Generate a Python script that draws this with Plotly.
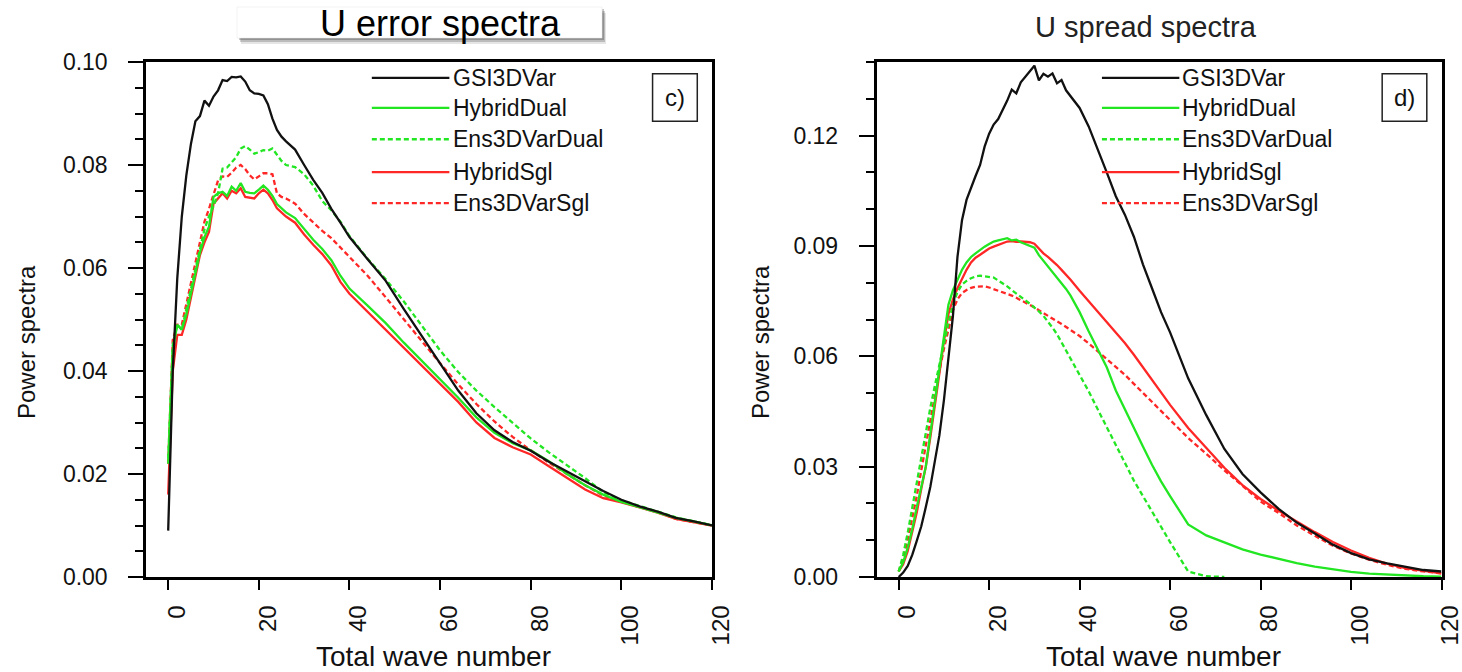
import plotly.graph_objects as go

W, H = 1462, 672
FONT = "Liberation Sans, Arial, Helvetica, sans-serif"

# ---------------- data: U error spectra (panel c) ----------------
wn_err = list(range(0, 27)) + [28, 30, 32, 34, 36, 38, 40] + list(range(44, 121, 4))

gsi_err = [0.009, 0.040, 0.058, 0.070, 0.078, 0.084, 0.0885, 0.0895, 0.0925, 0.0915,
           0.0933, 0.0945, 0.0965, 0.0963, 0.0971, 0.0970, 0.0972, 0.0962, 0.0945, 0.0939,
           0.0938, 0.0935, 0.0918, 0.0890, 0.0868, 0.0855, 0.0846,
           0.0830, 0.0800, 0.0771, 0.0746, 0.0715, 0.0688, 0.0660,
           0.0617, 0.0575, 0.0520, 0.0468, 0.0415, 0.0362, 0.0318, 0.0285, 0.0262, 0.0245,
           0.0224, 0.0205, 0.0187, 0.0167, 0.0150, 0.0137, 0.0127, 0.0115, 0.0108, 0.0100]
hyb_dual_err = [0.022, 0.044, 0.049, 0.048, 0.051, 0.055, 0.059, 0.063, 0.066, 0.068,
                0.0738, 0.0745, 0.0748, 0.0740, 0.0758, 0.0750, 0.0765, 0.0748, 0.0746, 0.0745,
                0.0752, 0.0760, 0.0752, 0.0740, 0.0724, 0.0715, 0.0708,
                0.0697, 0.0675, 0.0655, 0.0637, 0.0615, 0.0585, 0.0560,
                0.0527, 0.0493, 0.0455, 0.0420, 0.0385, 0.0348, 0.0310, 0.0280, 0.0260, 0.0246,
                0.0225, 0.0200, 0.0178, 0.0160, 0.0146, 0.0136, 0.0126, 0.0115, 0.0108, 0.0100]
ens_dual_err = [0.023, 0.045, 0.049, 0.048, 0.052, 0.056, 0.060, 0.064, 0.0675, 0.070,
                0.072, 0.0745, 0.0793, 0.0795, 0.0805, 0.0815, 0.0832, 0.0837, 0.0830, 0.0822,
                0.0825, 0.0829, 0.0828, 0.0832, 0.0820, 0.0808, 0.0800,
                0.0796, 0.0782, 0.0760, 0.0730, 0.0712, 0.0690, 0.0662,
                0.0618, 0.0578, 0.0535, 0.0487, 0.0440, 0.0398, 0.0362, 0.0330, 0.0299, 0.0269,
                0.0242, 0.0217, 0.0192, 0.0165, 0.0149, 0.0138, 0.0127, 0.0116, 0.0108, 0.0101]
hyb_sgl_err = [0.016, 0.040, 0.047, 0.047, 0.050, 0.054, 0.058, 0.0625, 0.065, 0.067,
               0.0725, 0.0735, 0.0745, 0.0735, 0.0750, 0.0745, 0.0755, 0.0738, 0.0737, 0.0735,
               0.0745, 0.0752, 0.0745, 0.0732, 0.0716, 0.0708, 0.0700,
               0.0688, 0.0665, 0.0645, 0.0627, 0.0605, 0.0573, 0.0550,
               0.0515, 0.0482, 0.0445, 0.0410, 0.0375, 0.0340, 0.0300, 0.0270, 0.0252, 0.0238,
               0.0215, 0.0192, 0.0170, 0.0153, 0.0145, 0.0135, 0.0125, 0.0113, 0.0107, 0.0100]
ens_sgl_err = [0.022, 0.046, 0.049, 0.049, 0.053, 0.057, 0.061, 0.065, 0.069, 0.0715,
               0.0745, 0.0770, 0.0778, 0.0777, 0.0785, 0.0795, 0.0800, 0.0792, 0.0780, 0.0772,
               0.0778, 0.0784, 0.0784, 0.0782, 0.0745, 0.0738, 0.0735,
               0.0725, 0.0705, 0.0688, 0.0672, 0.0658, 0.0640, 0.0620,
               0.0585, 0.0543, 0.0500, 0.0458, 0.0415, 0.0374, 0.0336, 0.0302, 0.0272, 0.0246,
               0.0222, 0.0200, 0.0178, 0.0158, 0.0146, 0.0136, 0.0126, 0.0113, 0.0107, 0.0100]

# ---------------- data: U spread spectra (panel d) ----------------
wn_spr = list(range(0, 39)) + list(range(40, 61, 2)) + list(range(64, 121, 4))

gsi_spr = [0.000, 0.0012, 0.003, 0.006, 0.0098, 0.0138, 0.019, 0.0245, 0.0315, 0.0385,
           0.048, 0.059, 0.071, 0.087, 0.097, 0.1025, 0.106, 0.109, 0.112, 0.117,
           0.1205, 0.123, 0.1245, 0.127, 0.1295, 0.1325, 0.1315, 0.1345, 0.136, 0.1375,
           0.139, 0.135, 0.1368, 0.136, 0.1369, 0.1342, 0.1351, 0.1323, 0.1308,
           0.1275, 0.1225, 0.1165, 0.1100, 0.1035, 0.0985, 0.0925, 0.0850, 0.0785, 0.0720, 0.0665,
           0.0540, 0.0440, 0.0348, 0.0280, 0.0230, 0.0185, 0.0148, 0.0118, 0.0088, 0.0065,
           0.0048, 0.0037, 0.0028, 0.0019, 0.0015]
hyb_dual_spr = [0.0015, 0.004, 0.008, 0.013, 0.019, 0.025, 0.030, 0.039, 0.048, 0.057,
                0.066, 0.074, 0.078, 0.081, 0.0835, 0.0855, 0.087, 0.088, 0.089, 0.0898,
                0.0905, 0.0912, 0.0915, 0.0918, 0.0921, 0.0915, 0.0917, 0.0910, 0.0905, 0.0902,
                0.0895, 0.0875, 0.0860, 0.0845, 0.0830, 0.0815, 0.0800, 0.0783, 0.0765,
                0.0720, 0.0668, 0.0620, 0.0570, 0.0507, 0.0455, 0.0405, 0.0355, 0.0305, 0.0260, 0.0220,
                0.0143, 0.0113, 0.0093, 0.0075, 0.0061, 0.0049, 0.0038, 0.0028, 0.0020, 0.0014,
                0.0009, 0.0006, 0.0004, 0.0002, 0.0001]
ens_dual_spr = [0.0015, 0.006, 0.012, 0.019, 0.026, 0.033, 0.040, 0.046, 0.052, 0.058,
                0.064, 0.069, 0.074, 0.0775, 0.0795, 0.0805, 0.0812, 0.0817, 0.0819, 0.0818,
                0.0817, 0.0814, 0.0806, 0.0799, 0.0790, 0.0780, 0.0770, 0.0760, 0.0752, 0.0743,
                0.0733, 0.0722, 0.0710, 0.0695, 0.0678, 0.0660, 0.0638, 0.0617, 0.0595,
                0.0552, 0.0505, 0.0456, 0.0408, 0.0360, 0.0310, 0.0262, 0.0220, 0.0178, 0.0135, 0.0095,
                0.0015, 0.0002, 0.0, None, None, None, None, None, None, None,
                None, None, None, None, None]
hyb_sgl_spr = [0.0015, 0.0035, 0.007, 0.012, 0.0175, 0.024, 0.030, 0.038, 0.047, 0.056,
               0.064, 0.0715, 0.0755, 0.0785, 0.081, 0.0835, 0.0855, 0.0868, 0.0876, 0.0885,
               0.0893, 0.0898, 0.0903, 0.0908, 0.0912, 0.0913, 0.0911, 0.0912, 0.0912, 0.0910,
               0.0906, 0.0893, 0.0880, 0.0870, 0.0860, 0.0848, 0.0835, 0.0822, 0.0808,
               0.0778, 0.0750, 0.0722, 0.0693, 0.0665, 0.0636, 0.0604, 0.0570, 0.0535, 0.0500, 0.0468,
               0.0405, 0.0350, 0.0297, 0.0250, 0.0212, 0.0180, 0.0150, 0.0122, 0.0095, 0.0072,
               0.0052, 0.0036, 0.0024, 0.0016, 0.0010]
ens_sgl_spr = [0.0015, 0.005, 0.010, 0.016, 0.022, 0.029, 0.036, 0.043, 0.050, 0.056,
               0.062, 0.067, 0.0725, 0.0755, 0.0772, 0.0780, 0.0786, 0.0789, 0.0790, 0.0790,
               0.0787, 0.0783, 0.0779, 0.0774, 0.0769, 0.0765, 0.0759, 0.0753, 0.0747, 0.0740,
               0.0733, 0.0725, 0.0717, 0.0710, 0.0702, 0.0695, 0.0688, 0.0680, 0.0672,
               0.0655, 0.0635, 0.0614, 0.0594, 0.0573, 0.0550, 0.0525, 0.0500, 0.0476, 0.0452, 0.0427,
               0.0378, 0.0335, 0.0290, 0.0248, 0.0205, 0.0174, 0.0140, 0.0112, 0.0085, 0.0064,
               0.0047, 0.0033, 0.0022, 0.0015, 0.0010]

series_names = ["GSI3DVar", "HybridDual", "Ens3DVarDual", "HybridSgl", "Ens3DVarSgl"]
x_ticks = [0, 20, 40, 60, 80, 100, 120]

BLACK, GREEN, RED = "#111111", "#22e622", "#ff2626"
DASH = "5px,3px"
styles = {
    "GSI3DVar": (BLACK, "solid"),
    "HybridDual": (GREEN, "solid"),
    "Ens3DVarDual": (GREEN, DASH),
    "HybridSgl": (RED, "solid"),
    "Ens3DVarSgl": (RED, DASH),
}

panels = [
    ("x", "y", wn_err, {"GSI3DVar": gsi_err, "HybridDual": hyb_dual_err, "Ens3DVarDual": ens_dual_err,
                        "HybridSgl": hyb_sgl_err, "Ens3DVarSgl": ens_sgl_err}),
    ("x2", "y2", wn_spr, {"GSI3DVar": gsi_spr, "HybridDual": hyb_dual_spr, "Ens3DVarDual": ens_dual_spr,
                          "HybridSgl": hyb_sgl_spr, "Ens3DVarSgl": ens_sgl_spr}),
]

fig = go.Figure()
draw_order = ["Ens3DVarSgl", "HybridSgl", "Ens3DVarDual", "HybridDual", "GSI3DVar"]
for xa, ya, xs, data in panels:
    for name in draw_order:
        col, dash = styles[name]
        fig.add_trace(go.Scatter(x=xs, y=data[name], mode="lines", name=name,
                                 line=dict(color=col, width=2.3, dash=dash),
                                 xaxis=xa, yaxis=ya, showlegend=False, connectgaps=False))


def px_x(p):
    return p / W


def px_y(p):
    return 1 - p / H


ydom = [px_y(577), px_y(62)]
xdom1 = [px_x(146), px_x(712)]
xdom2 = [px_x(876.5), px_x(1441.5)]

xcommon = dict(range=[-4.9, 120], tickmode="array", tickvals=x_ticks, ticktext=[str(v) for v in x_ticks],
               tickangle=-90, ticks="outside", ticklen=10, tickwidth=2, tickcolor="black",
               showline=True, linewidth=2.5, linecolor="black", mirror=True, showgrid=False,
               zeroline=False, tickfont=dict(family=FONT, size=24, color="#111"),
               ticklabelshift=9, ticklabelstandoff=6, automargin=False, ticklabeloverflow="allow")
ycommon = dict(ticks="outside", ticklen=15, tickwidth=2, tickcolor="black", showline=True,
               linewidth=2.5, linecolor="black", mirror=True, showgrid=False, zeroline=False,
               tickformat=".2f", tickfont=dict(family=FONT, size=23, color="#111"),
               ticklabelstandoff=16, automargin=False, ticklabeloverflow="allow")

fig.update_layout(
    width=W, height=H, margin=dict(l=0, r=0, t=0, b=0, pad=0, autoexpand=False),
    paper_bgcolor="white", plot_bgcolor="white", showlegend=False,
    xaxis=dict(xcommon, domain=xdom1, anchor="y"),
    xaxis2=dict(xcommon, domain=xdom2, anchor="y2"),
    yaxis=dict(ycommon, domain=ydom, anchor="x", range=[0, 0.1], dtick=0.02, tick0=0,
               minor=dict(dtick=0.005, ticklen=8, tickwidth=1.5, tickcolor="black", ticks="outside")),
    yaxis2=dict(ycommon, domain=ydom, anchor="x2", range=[0, 0.14], dtick=0.03, tick0=0,
                minor=dict(dtick=0.01, ticklen=8, tickwidth=1.5, tickcolor="black", ticks="outside")),
)

shapes = []
annotations = []

# in-plot legends and panel labels
leg_rows = [0.969, 0.911, 0.850, 0.786, 0.726]
for xa, ya, label in [("x", "y", "c)"), ("x2", "y2", "d)")]:
    xr, yr = xa + " domain", ya + " domain"
    for name, yy in zip(series_names, leg_rows):
        col, dash = styles[name]
        shapes.append(dict(type="line", xref=xr, yref=yr, x0=0.399, x1=0.536, y0=yy, y1=yy,
                           line=dict(color=col, width=2.3, dash=dash)))
        annotations.append(dict(xref=xr, yref=yr, x=0.538, y=yy, text=name, showarrow=False,
                                xanchor="left", yanchor="middle",
                                font=dict(family=FONT, size=23, color="#111")))
    shapes.append(dict(type="rect", xref=xr, yref=yr, x0=0.895, x1=0.974, y0=0.885, y1=0.977,
                       line=dict(color="#222", width=1.5), fillcolor="white"))
    annotations.append(dict(xref=xr, yref=yr, x=0.9345, y=0.931, text=label, showarrow=False,
                            xanchor="center", yanchor="middle",
                            font=dict(family=FONT, size=24, color="#111")))

# title box with soft shadow (panel c)
for dx, dy, a in [(4, 6, 0.10), (3, 4, 0.18), (2, 2, 0.22)]:
    shapes.append(dict(type="rect", xref="paper", yref="paper", x0=px_x(237 + dx), x1=px_x(602 + dx),
                       y0=px_y(38 + dy), y1=px_y(7 + dy), line=dict(width=0),
                       fillcolor="rgba(0,0,0,%.2f)" % a))
shapes.append(dict(type="rect", xref="paper", yref="paper", x0=px_x(237), x1=px_x(602),
                   y0=px_y(38), y1=px_y(7), line=dict(color="#e4e4e4", width=0.5), fillcolor="white"))

annotations += [
    dict(xref="paper", yref="paper", x=px_x(440), y=px_y(24), text="U error spectra", showarrow=False,
         xanchor="center", yanchor="middle", font=dict(family=FONT, size=36, color="#000")),
    dict(xref="paper", yref="paper", x=px_x(1146), y=px_y(27), text="U spread spectra", showarrow=False,
         xanchor="center", yanchor="middle", font=dict(family=FONT, size=29, color="#222")),
    dict(xref="paper", yref="paper", x=px_x(26), y=px_y(342), text="Power spectra", showarrow=False,
         textangle=-90, xanchor="center", yanchor="middle", font=dict(family=FONT, size=24, color="#111")),
    dict(xref="paper", yref="paper", x=px_x(760), y=px_y(342), text="Power spectra", showarrow=False,
         textangle=-90, xanchor="center", yanchor="middle", font=dict(family=FONT, size=24, color="#111")),
    dict(xref="paper", yref="paper", x=px_x(433), y=px_y(656), text="Total wave number", showarrow=False,
         xanchor="center", yanchor="middle", font=dict(family=FONT, size=28, color="#111")),
    dict(xref="paper", yref="paper", x=px_x(1163), y=px_y(656), text="Total wave number", showarrow=False,
         xanchor="center", yanchor="middle", font=dict(family=FONT, size=28, color="#111")),
]

fig.update_layout(shapes=shapes, annotations=annotations)
fig.write_html("out.html")
